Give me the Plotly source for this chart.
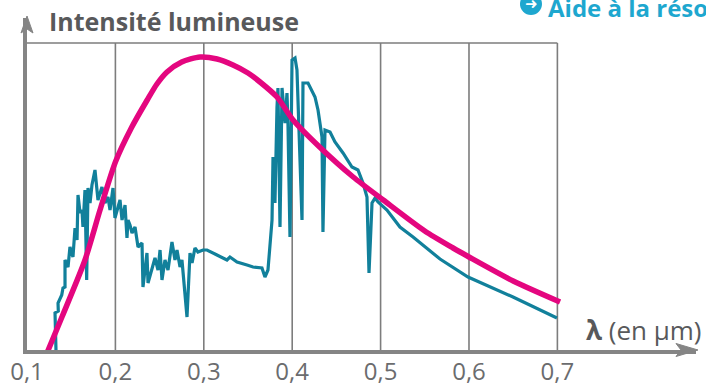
import plotly.graph_objects as go

# ---- data (wavelength in µm, intensity in arbitrary units) ----
sun_wavelength = [0.1328, 0.1317, 0.1354, 0.1351, 0.1393, 0.1407, 0.1430, 0.1430, 0.1464, 0.1486,
                  0.1520, 0.1543, 0.1566, 0.1577, 0.1600, 0.1622, 0.1633, 0.1656, 0.1675, 0.1690,
                  0.1713, 0.1735, 0.1769, 0.1803, 0.1848, 0.1882, 0.1916, 0.1939, 0.1973, 0.1995,
                  0.2052, 0.2075, 0.2109, 0.2131, 0.2143, 0.2165, 0.2188, 0.2222, 0.2256, 0.2301,
                  0.2312, 0.2357, 0.2369, 0.2414, 0.2448, 0.2482, 0.2505, 0.2527, 0.2561, 0.2595,
                  0.2640, 0.2674, 0.2697, 0.2731, 0.2753, 0.2765, 0.2810, 0.2844, 0.2867, 0.2900,
                  0.2934, 0.2991, 0.3036, 0.3149, 0.3262, 0.3296, 0.3376, 0.3489, 0.3557, 0.3658,
                  0.3692, 0.3726, 0.3772, 0.3783, 0.3805, 0.3828, 0.3839, 0.3862, 0.3885, 0.3919,
                  0.3941, 0.3952, 0.3975, 0.3998, 0.4032, 0.4054, 0.4111, 0.4122, 0.4179, 0.4258,
                  0.4292, 0.4337, 0.4348, 0.4371, 0.4428, 0.4484, 0.4575, 0.4676, 0.4744, 0.4801,
                  0.4846, 0.4869, 0.4903, 0.4937, 0.4971, 0.5072, 0.5219, 0.5367, 0.5672, 0.5989,
                  0.6498, 0.6995]
sun_intensity = [0, 37, 39, 47, 55, 62, 63, 90, 83, 103,
                 93, 122, 110, 155, 137, 140, 123, 160, 70, 162,
                 147, 165, 180, 150, 163, 147, 153, 140, 162, 132,
                 150, 130, 145, 112, 130, 125, 117, 123, 103, 107,
                 63, 97, 67, 80, 92, 80, 100, 70, 90, 80,
                 108, 90, 100, 83, 90, 78, 33, 97, 87, 102,
                 98, 100, 100, 95, 90, 93, 88, 85, 83, 82,
                 73, 80, 130, 193, 147, 243, 262, 123, 262, 227,
                 257, 227, 113, 290, 292, 280, 130, 267, 267, 253,
                 240, 213, 118, 220, 218, 208, 197, 183, 180, 167,
                 153, 77, 147, 152, 148, 140, 123, 113, 91, 73,
                 53, 32]

bb_wavelength = [0.1226, 0.140, 0.1656, 0.1826, 0.200, 0.218, 0.236, 0.247, 0.2584, 0.275,
                 0.2957, 0.315, 0.333, 0.350, 0.3636, 0.3828, 0.401, 0.431, 0.469, 0.503,
                 0.550, 0.582, 0.600, 0.650, 0.703]
bb_intensity = [-3, 34, 90, 140, 188, 222, 250, 266, 278, 288,
                293, 291, 285, 277, 268, 253, 230, 203, 173, 150,
                119, 102, 93, 69, 48]

tick_values = [0.1, 0.2, 0.3, 0.4, 0.5, 0.6, 0.7]
tick_labels = ["0,1", "0,2", "0,3", "0,4", "0,5", "0,6", "0,7"]

X_MIN, X_MAX = 0.1, 0.8568
Y_MAX = 332
FRAME_TOP = 307

GRID = "#7d7d7d"
AXIS = "#858585"
TEXT = "#58595b"
FONT = "Open Sans"

fig = go.Figure()
fig.add_trace(go.Scatter(x=sun_wavelength, y=sun_intensity, mode="lines",
                         line=dict(color="#11809b", width=3.2), hoverinfo="skip"))
fig.add_trace(go.Scatter(x=bb_wavelength, y=bb_intensity, mode="lines",
                         line=dict(color="#e4067f", width=5.5, shape="spline", smoothing=0.7),
                         hoverinfo="skip"))

shapes = []
for t in tick_values[1:]:
    shapes.append(dict(type="line", xref="x", yref="y", x0=t, x1=t, y0=0, y1=FRAME_TOP,
                       line=dict(color=GRID, width=1.6), layer="below"))
shapes.append(dict(type="line", xref="x", yref="y", x0=tick_values[0], x1=tick_values[-1],
                   y0=FRAME_TOP, y1=FRAME_TOP, line=dict(color=GRID, width=1.6), layer="below"))
# arrowheads of the two axes (paper coords)
shapes.append(dict(type="path", xref="paper", yref="paper",
                   path="M 0.9701 0.0196 L 1.003 0 L 0.9701 -0.0196 L 0.9776 0 Z",
                   fillcolor=AXIS, line=dict(color=AXIS, width=1)))
shapes.append(dict(type="path", xref="paper", yref="paper",
                   path="M -0.00897 0.9548 L 0 1.006 L 0.00897 0.9548 L 0 0.9669 Z",
                   fillcolor=AXIS, line=dict(color=AXIS, width=1)))
# help icon circle (paper coords)
shapes.append(dict(type="circle", xref="paper", yref="paper", x0=0.7369, x1=0.7698,
                   y0=1.009, y1=1.0753, fillcolor="#1ea7cf", line=dict(width=0)))

annotations = [
    dict(x=0.1226, y=329, xref="x", yref="y", xanchor="left", yanchor="middle",
         text="<b>Intensité lumineuse</b>", showarrow=False,
         font=dict(family=FONT, size=25, color=TEXT)),
    dict(x=0.7305, y=20, xref="x", yref="y", xanchor="left", yanchor="middle",
         text="<b>λ</b> (en µm)", showarrow=False,
         font=dict(family=FONT, size=26, color=TEXT)),
    dict(x=0.7534, y=1.042, xref="paper", yref="paper", xanchor="center", yanchor="middle",
         text="➜", showarrow=False, font=dict(family="DejaVu Sans", size=15, color="white")),
    dict(x=0.7758, y=1.033, xref="paper", yref="paper", xanchor="left", yanchor="middle",
         text="<b>Aide à la résolution</b>", showarrow=False,
         font=dict(family=FONT, size=24, color="#1ea7cf")),
]

fig.update_layout(
    width=706, height=385,
    margin=dict(l=27, r=10, t=18, b=35, autoexpand=False),
    paper_bgcolor="white", plot_bgcolor="white",
    showlegend=False,
    shapes=shapes, annotations=annotations,
    xaxis=dict(range=[X_MIN, X_MAX], showgrid=False, zeroline=False,
               showline=True, linewidth=3.5, linecolor=AXIS,
               tickvals=tick_values, ticktext=tick_labels, ticks="",
               ticklabelstandoff=-3, automargin=False,
               tickfont=dict(family=FONT, size=24, color="#6b6c6e"), fixedrange=True),
    yaxis=dict(range=[0, Y_MAX], showgrid=False, zeroline=False,
               showline=True, linewidth=3.5, linecolor=AXIS,
               showticklabels=False, ticks="", fixedrange=True, automargin=False),
)

fig.write_html("out.html", config={"displayModeBar": False},
               post_script="document.body.style.margin='0px';")
